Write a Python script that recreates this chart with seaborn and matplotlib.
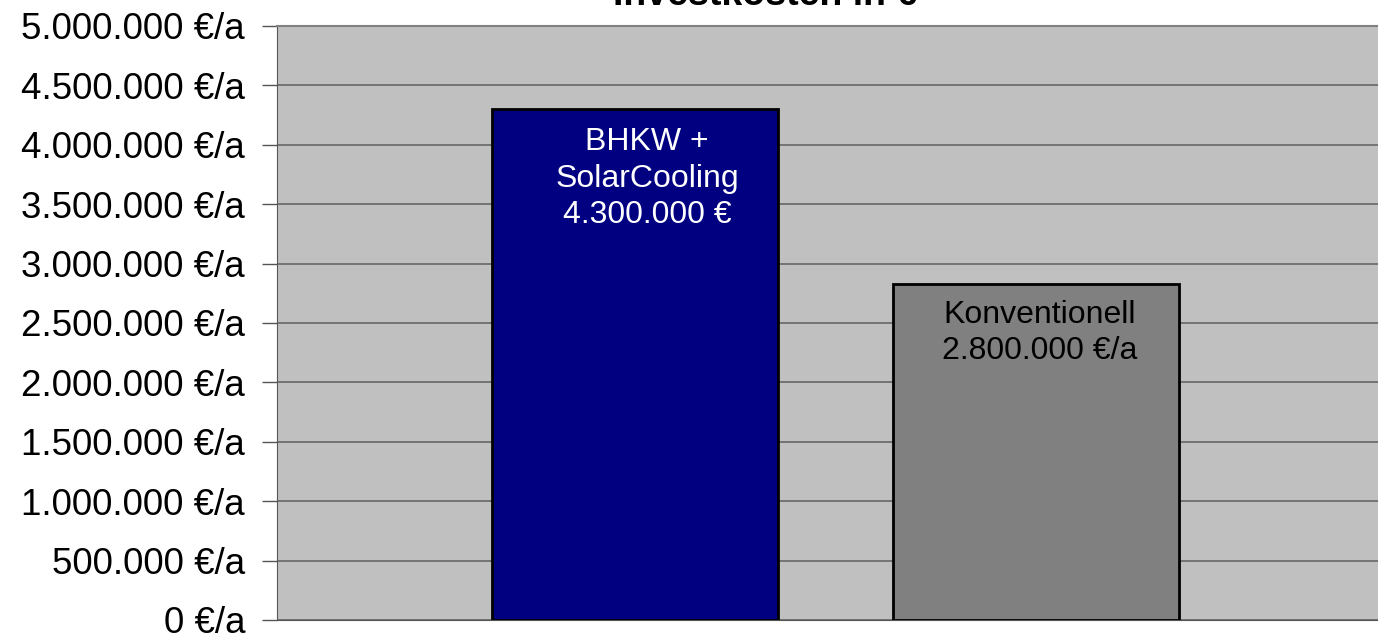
import numpy as np
import pandas as pd
import seaborn as sns
import matplotlib.pyplot as plt
from matplotlib.ticker import FuncFormatter, MultipleLocator

# values
categories = ['BHKW + SolarCooling', 'Konventionell']
costs = [4300000, 2830000]
bar_texts = ['BHKW +\nSolarCooling\n4.300.000 €', 'Konventionell\n2.800.000 €/a']
bar_colors = ['#000080', '#808080']
text_colors = ['white', 'black']

sns.set_style('white')
plt.rcParams['font.family'] = ['Liberation Sans', 'DejaVu Sans']

df = pd.DataFrame({'cat': categories, 'cost': costs})

fig = plt.figure(figsize=(13.78, 6.37), dpi=100)
ax = fig.add_axes([0.201, 0.0267, 0.799, 0.9325])
ax.set_facecolor('#C0C0C0')

sns.barplot(data=df, x='cat', y='cost', hue='cat', palette=bar_colors, legend=False,
            width=0.713, edgecolor='black', linewidth=2, saturation=1, ax=ax, zorder=3)

ax.set_ylim(0, 5000000)
ax.set_xlim(-0.893, 1.852)
ax.yaxis.set_major_locator(MultipleLocator(500000))
ax.yaxis.set_major_formatter(FuncFormatter(lambda v, p: f"{int(v):,}".replace(',', '.') + ' €/a'))
ax.grid(axis='y', color='#666666', linewidth=1.2, zorder=0)
ax.set_axisbelow(True)
ax.tick_params(axis='y', labelsize=26.5, labelcolor='black', length=11, width=1,
               color='#555555', pad=12, left=True)
ax.set_xticks([])
ax.set_xlabel('')
ax.set_ylabel('')
ax.spines['top'].set_color('#808080')
ax.spines['top'].set_linewidth(1.5)
ax.spines['left'].set_color('#555555')
ax.spines['bottom'].set_color('#555555')
ax.spines['right'].set_visible(False)

# labels inside the bars
offsets = [(12, -18), (3, -16)]
for i, (val, txt) in enumerate(zip(costs, bar_texts)):
    ax.annotate(txt, xy=(i, val), xytext=offsets[i], textcoords='offset pixels',
                ha='center', va='top', fontsize=23, color=text_colors[i],
                linespacing=1.28, zorder=5)

fig.text(0.555, 0.992, 'Investkosten in €', ha='center', va='baseline',
         fontsize=27, fontweight='bold', color='black')

fig.savefig('out.png', dpi=100)
